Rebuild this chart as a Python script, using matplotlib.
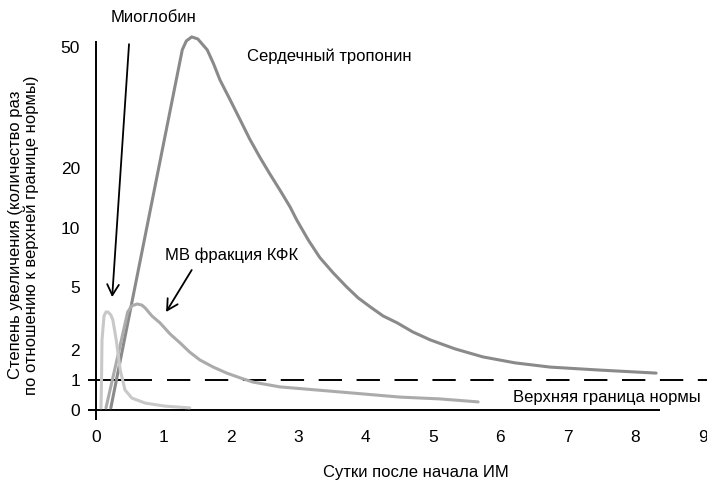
import numpy as np
import matplotlib
matplotlib.use('Agg')
import matplotlib.pyplot as plt

plt.rcParams['font.family'] = ['Liberation Sans', 'DejaVu Sans']

# деления осей
x_ticks = [0, 1, 2, 3, 4, 5, 6, 7, 8, 9]
y_ticks = [0, 1, 2, 5, 10, 20, 50]

# кривые (сутки, кратность превышения нормы)
trop_days = [0.22, 1.25, 1.28, 1.34, 1.42, 1.51, 1.65, 1.74, 1.84, 1.99, 2.14, 2.28,
             2.43, 2.58, 2.73, 2.88, 2.98, 3.15, 3.32, 3.52, 3.72, 3.89, 4.07, 4.26,
             4.47, 4.70, 4.96, 5.33, 5.74, 6.22, 6.74, 7.48, 8.31]
trop_vals = [0.07, 46.8, 49.3, 51.5, 52.5, 52.0, 49.3, 46.0, 41.8, 36.9, 31.9, 27.2,
             22.7, 19.0, 16.3, 13.5, 11.3, 8.98, 7.5, 6.19, 5.0, 4.48, 4.05, 3.62,
             3.29, 2.86, 2.48, 2.05, 1.77, 1.57, 1.43, 1.33, 1.23]

mb_days = [0.148, 0.31, 0.47, 0.53, 0.61, 0.68, 0.73, 0.83, 0.95, 1.10, 1.25, 1.39,
           1.54, 1.74, 1.94, 2.14, 2.33, 2.73, 3.47, 4.51, 5.10, 5.67]
mb_vals = [0.07, 1.67, 3.81, 4.10, 4.19, 4.14, 4.0, 3.62, 3.29, 2.76, 2.33, 1.93,
           1.67, 1.43, 1.23, 1.07, 0.93, 0.77, 0.63, 0.43, 0.37, 0.27]

myo_days = [0.074, 0.082, 0.089, 0.119, 0.148, 0.178, 0.22, 0.25, 0.30, 0.36, 0.43,
            0.53, 0.73, 1.02, 1.39]
myo_vals = [0.07, 1.0, 2.48, 3.62, 3.81, 3.81, 3.67, 3.43, 2.48, 1.33, 0.67,
            0.4, 0.23, 0.13, 0.07]

# нелинейная шкала оси Y (как на рисунке)
scale_vals = [-10, 0, 1, 2, 5, 10, 20, 50, 100]
scale_pos = [-300, 0, 30, 60, 123, 182, 242, 363, 564.7]


def fwd(v):
    return np.interp(v, scale_vals, scale_pos)


def inv(p):
    return np.interp(p, scale_pos, scale_vals)


fig = plt.figure(figsize=(7.07, 4.84), dpi=100)
px_day = 67.4
x0 = 96
left, right = 82, 707
bottom, top = 426, 10
ax = fig.add_axes([left / 707, (484 - bottom) / 484, (right - left) / 707, (bottom - top) / 484])
ax.set_yscale('function', functions=(fwd, inv))
ax.set_xlim((left - x0) / px_day, (right - x0) / px_day)
ax.set_ylim(inv(410 - bottom), inv(410 - top))

for s in ax.spines.values():
    s.set_visible(False)

ax.set_xticks(x_ticks)
ax.set_yticks(y_ticks)
ax.set_xticklabels([str(t) for t in x_ticks])
ax.set_yticklabels([str(t) for t in y_ticks])
ax.tick_params(axis='both', length=0, labelsize=12.5)
ax.tick_params(axis='x', pad=3)
ax.tick_params(axis='y', pad=1.5)

# оси
ax.vlines(0, inv(-10), inv(369), color='black', lw=1.4)
ax.hlines(0, -0.12, 8.37, color='black', lw=1.4)
# верхняя граница нормы
ax.plot([-0.12, 0.83], [1, 1], color='black', lw=1.4, solid_capstyle='butt')
ax.plot([1.05, 9.1], [1, 1], color='black', lw=1.4, dashes=(12, 7.5), dash_capstyle='butt')

# кривые
ax.plot(trop_days, trop_vals, color='#8a8a8a', lw=2.2, solid_capstyle='round', solid_joinstyle='round')
ax.plot(mb_days, mb_vals, color='#ababab', lw=2.2, solid_capstyle='round', solid_joinstyle='round')
ax.plot(myo_days, myo_vals, color='#c8c8c8', lw=2.2, solid_capstyle='round', solid_joinstyle='round')

# стрелки
arrow = dict(arrowstyle='->,head_length=0.55,head_width=0.3', lw=1.3, color='black',
             shrinkA=0, shrinkB=0, mutation_scale=14)
ax.annotate('', xy=(0.24, 4.52), xytext=(0.49, 50.7), arrowprops=arrow, annotation_clip=False)
ax.annotate('', xy=(1.04, 3.81), xytext=(1.42, 6.44), arrowprops=arrow, annotation_clip=False)

# подписи
ax.text(0.21, 57.2, 'Миоглобин', fontsize=12, ha='left', va='center')
ax.text(2.24, 47.8, 'Сердечный тропонин', fontsize=12, ha='left', va='center')
ax.text(1.02, 7.71, 'МВ фракция КФК', fontsize=12, ha='left', va='center')
ax.text(6.19, 0.43, 'Верхняя граница нормы', fontsize=12, ha='left', va='center')

fig.text(416 / 707, 1 - 473 / 484, 'Сутки после начала ИМ', fontsize=12, ha='center', va='center')
fig.text(23.5 / 707, 1 - 235 / 484,
         'Степень увеличения (количество раз\nпо отношению к верхней границе нормы)',
         fontsize=12, rotation=90, ha='center', va='center', multialignment='center',
         linespacing=1.05)

fig.savefig('out.png', dpi=100)
